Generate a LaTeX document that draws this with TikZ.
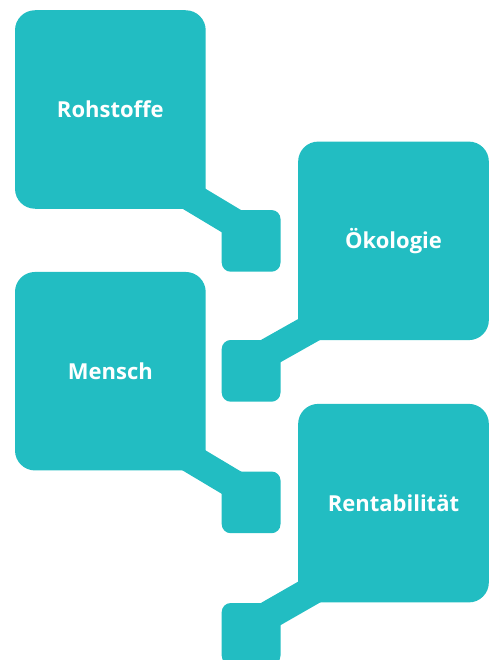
\documentclass[tikz,border=0pt]{standalone}
\usepackage{fontspec}
\setmainfont{Open Sans}
\usetikzlibrary{calc}
\definecolor{teal1}{HTML}{22BDC2}
\tikzset{
  bigbox/.style={fill=teal1, rounded corners=20pt, minimum width=190.7pt, minimum height=198.5pt, inner sep=0pt, text=white, font=\bfseries\fontsize{22}{26}\selectfont},
  smallbox/.style={fill=teal1, rounded corners=9pt, minimum width=58.8pt, minimum height=61.7pt, inner sep=0pt},
  band/.style={draw=teal1, line width=29pt}
}
\begin{document}
\begin{tikzpicture}[x=1pt,y=-1pt]
\useasboundingbox (0,0) rectangle (490,660);
\node[bigbox] (b1) at (110.35,109.5) {Rohstoffe};
\node[bigbox] (b2) at (393.5,240.85) {Ökologie};
\node[bigbox] (b3) at (110.35,371.2) {Mensch};
\node[bigbox] (b4) at (393.5,503.15) {Rentabilität};
\node[smallbox] (s1) at (251.1,240.85) {};
\node[smallbox] (s2) at (251.1,370.85) {};
\node[smallbox] (s3) at (251.1,502.35) {};
\node[smallbox] (s4) at (251.1,633.85) {};
\draw[band] ($(b1.south east)+(-33.2,-23)$) -- ($(s1.north west)+(15.1,14.5)$);
\draw[band] ($(b3.south east)+(-33.2,-23)$) -- ($(s3.north west)+(15.1,14.5)$);
\draw[band] ($(b2.south west)+(37.6,-25.7)$) -- ($(s2.north east)+(-14.4,13.8)$);
\draw[band] ($(b4.south west)+(37.6,-25.7)$) -- ($(s4.north east)+(-14.4,13.8)$);
\end{tikzpicture}
\end{document}
